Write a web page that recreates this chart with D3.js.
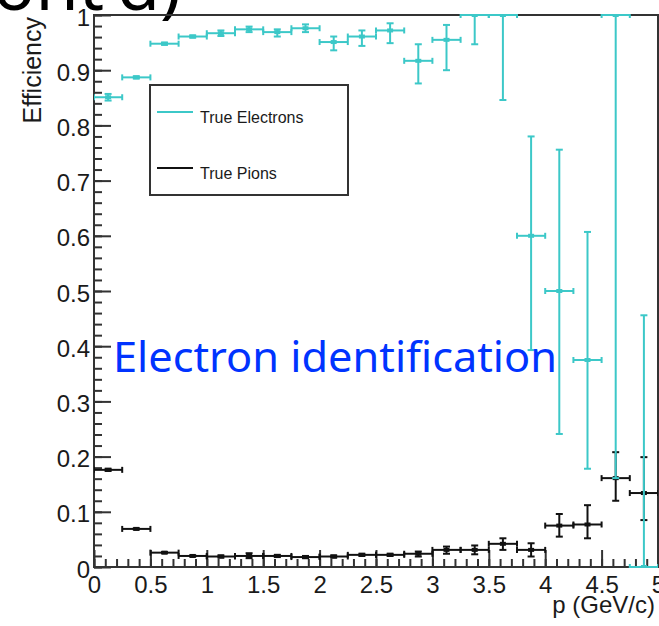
<!DOCTYPE html>
<html>
<head>
<meta charset="utf-8">
<script src="https://cdn.jsdelivr.net/npm/d3@7"></script>
<style>
  body { margin: 0; background: white; }
  svg { display: block; }
</style>
</head>
<body>
<div id="chart"></div>
<script>
// bins in p (GeV/c)
var binLow  = [0, 0.25, 0.5, 0.75, 1, 1.25, 1.5, 1.75, 2, 2.25, 2.5, 2.75, 3, 3.25, 3.5, 3.75, 4, 4.25, 4.5, 4.75];
var binHigh = [0.25, 0.5, 0.75, 1, 1.25, 1.5, 1.75, 2, 2.25, 2.5, 2.75, 3, 3.25, 3.5, 3.75, 4, 4.25, 4.5, 4.75, 5];

// true electrons: efficiency and error band (low / high)
var elecEff  = [0.851, 0.887, 0.948, 0.961, 0.967, 0.974, 0.969, 0.976, 0.951, 0.961, 0.972, 0.917, 0.955, 1.0, 1.0, 0.6, 0.5, 0.375, 1.0, 0.0];
var elecLow  = [0.845, 0.885, 0.946, 0.959, 0.962, 0.969, 0.961, 0.969, 0.936, 0.944, 0.949, 0.876, 0.900, 0.947, 0.846, 0.393, 0.241, 0.178, 0.161, 0.0];
var elecHigh = [0.857, 0.889, 0.950, 0.963, 0.972, 0.979, 0.974, 0.983, 0.961, 0.972, 0.985, 0.947, 0.982, 1.0, 1.0, 0.780, 0.756, 0.607, 1.0, 0.456];

// true pions
var pionEff  = [0.176, 0.069, 0.026, 0.020, 0.019, 0.020, 0.020, 0.018, 0.019, 0.022, 0.022, 0.024, 0.031, 0.031, 0.042, 0.031, 0.075, 0.077, 0.161, 0.134];
var pionLow  = [0.174, 0.068, 0.025, 0.019, 0.017, 0.016, 0.018, 0.016, 0.017, 0.020, 0.020, 0.019, 0.024, 0.023, 0.031, 0.019, 0.055, 0.052, 0.120, 0.085];
var pionHigh = [0.178, 0.070, 0.027, 0.021, 0.021, 0.025, 0.022, 0.020, 0.021, 0.024, 0.024, 0.028, 0.037, 0.039, 0.052, 0.043, 0.096, 0.112, 0.208, 0.199];

// axis ticks
var xMajor = [0, 0.5, 1, 1.5, 2, 2.5, 3, 3.5, 4, 4.5, 5];
var xLabels = ["0", "0.5", "1", "1.5", "2", "2.5", "3", "3.5", "4", "4.5", "5"];
var yMajor = [0, 0.1, 0.2, 0.3, 0.4, 0.5, 0.6, 0.7, 0.8, 0.9, 1];
var yLabels = ["0", "0.1", "0.2", "0.3", "0.4", "0.5", "0.6", "0.7", "0.8", "0.9", "1"];

var width = 659, height = 626;
var frameL = 94, frameR = 658, frameT = 15, frameB = 567;
var cyan = "#3cc8c8", black = "#111";
var axisColor = "#333";
var tickFont = "'Liberation Sans', Arial, sans-serif";

var svg = d3.select("#chart").append("svg")
    .attr("width", width).attr("height", height)
    .style("background-color", "white");

var x = d3.scaleLinear().domain([0, 5]).range([frameL, frameR]);
var y = d3.scaleLinear().domain([0, 1]).range([frameB, frameT]);

//big cut-off heading at the very top
svg.append("text")
    .attr("x", 181).attr("y", 10)
    .attr("text-anchor", "end")
    .attr("font-family", "'Noto Sans', 'Open Sans', sans-serif")
    .attr("font-size", 70)
    .attr("fill", "black")
    .text("(cont'd)");

//minor ticks
svg.append("g").attr("transform", "translate(" + frameL + ",0)")
    .call(d3.axisLeft(y).ticks(50).tickSize(-8).tickSizeOuter(0).tickFormat(""))
    .call(function(g) { g.select(".domain").remove(); g.selectAll("line").attr("stroke", axisColor).attr("stroke-width", 2); });
svg.append("g").attr("transform", "translate(0," + frameB + ")")
    .call(d3.axisBottom(x).ticks(50).tickSize(-8).tickSizeOuter(0).tickFormat(""))
    .call(function(g) { g.select(".domain").remove(); g.selectAll("line").attr("stroke", axisColor).attr("stroke-width", 2); });

//major ticks with labels
var yAxis = svg.append("g").attr("transform", "translate(" + frameL + ",0)")
    .call(d3.axisLeft(y).tickValues(yMajor).tickSize(-17).tickSizeOuter(0).tickPadding(4)
        .tickFormat(function(d, i) { return yLabels[i]; }));
yAxis.select(".domain").remove();
yAxis.selectAll("line").attr("stroke", axisColor).attr("stroke-width", 2);
yAxis.selectAll("text").attr("font-family", tickFont).attr("font-size", 24).attr("fill", "#1a1a1a").attr("dy", "0.42em");

var xAxis = svg.append("g").attr("transform", "translate(0," + frameB + ")")
    .call(d3.axisBottom(x).tickValues(xMajor).tickSize(-17).tickSizeOuter(0).tickPadding(9)
        .tickFormat(function(d, i) { return xLabels[i]; }));
xAxis.select(".domain").remove();
xAxis.selectAll("line").attr("stroke", axisColor).attr("stroke-width", 2);
xAxis.selectAll("text").attr("font-family", tickFont).attr("font-size", 24).attr("fill", "#1a1a1a");

//frame
svg.append("rect")
    .attr("x", frameL).attr("y", frameT)
    .attr("width", frameR - frameL).attr("height", frameB - frameT)
    .attr("fill", "none").attr("stroke", axisColor).attr("stroke-width", 2);

//axis titles
svg.append("text")
    .attr("transform", "translate(41,17) rotate(-90)")
    .attr("text-anchor", "end")
    .attr("font-family", tickFont).attr("font-size", 25).attr("fill", "#1a1a1a")
    .text("Efficiency");
svg.append("text")
    .attr("x", 655).attr("y", 613)
    .attr("text-anchor", "end")
    .attr("font-family", tickFont).attr("font-size", 24).attr("fill", "#1a1a1a")
    .text("p (GeV/c)");

//clip data to the frame
svg.append("clipPath").attr("id", "frame")
    .append("rect").attr("x", frameL).attr("y", frameT - 1).attr("width", frameR - frameL).attr("height", frameB - frameT + 2);

function drawSeries(eff, lo, hi, color) {
    var rows = eff.map(function(v, i) {
        return {x0: binLow[i], x1: binHigh[i], xc: (binLow[i] + binHigh[i]) / 2, v: v, lo: lo[i], hi: hi[i]};
    });
    var g = svg.append("g").attr("clip-path", "url(#frame)")
        .attr("stroke", color).attr("stroke-width", 2).attr("fill", color);
    var pts = g.selectAll("g").data(rows).enter().append("g");
    //horizontal bar over the bin
    pts.append("line")
        .attr("x1", function(d) { return x(d.x0); }).attr("x2", function(d) { return x(d.x1); })
        .attr("y1", function(d) { return y(d.v); }).attr("y2", function(d) { return y(d.v); });
    //end caps of the horizontal bar
    [function(d) { return x(d.x0); }, function(d) { return x(d.x1); }].forEach(function(fx) {
        pts.append("line")
            .attr("x1", fx).attr("x2", fx)
            .attr("y1", function(d) { return y(d.v) - 3; }).attr("y2", function(d) { return y(d.v) + 3; });
    });
    //vertical error
    pts.append("line")
        .attr("x1", function(d) { return x(d.xc); }).attr("x2", function(d) { return x(d.xc); })
        .attr("y1", function(d) { return y(d.lo); }).attr("y2", function(d) { return y(d.hi); });
    ["lo", "hi"].forEach(function(k) {
        pts.append("line")
            .attr("x1", function(d) { return x(d.xc) - 3.5; }).attr("x2", function(d) { return x(d.xc) + 3.5; })
            .attr("y1", function(d) { return y(d[k]); }).attr("y2", function(d) { return y(d[k]); });
    });
    //small marker
    pts.append("rect")
        .attr("x", function(d) { return x(d.xc) - 3; }).attr("y", function(d) { return y(d.v) - 2; })
        .attr("width", 6).attr("height", 4).attr("stroke", "none");
}

drawSeries(pionEff, pionLow, pionHigh, black);
drawSeries(elecEff, elecLow, elecHigh, cyan);

//legend
var legend = svg.append("g");
legend.append("rect")
    .attr("x", 150).attr("y", 85).attr("width", 198).attr("height", 110)
    .attr("fill", "white").attr("stroke", axisColor).attr("stroke-width", 2);
[{label: "True Electrons", color: cyan, ly: 112, ty: 123},
 {label: "True Pions", color: black, ly: 168, ty: 179}].forEach(function(e) {
    legend.append("line")
        .attr("x1", 157).attr("x2", 193).attr("y1", e.ly).attr("y2", e.ly)
        .attr("stroke", e.color).attr("stroke-width", 2);
    legend.append("text")
        .attr("x", 200).attr("y", e.ty)
        .attr("font-family", tickFont).attr("font-size", 16).attr("fill", "#1a1a1a")
        .text(e.label);
});

//overlay label
svg.append("text")
    .attr("x", 113).attr("y", 372)
    .attr("font-family", "'Noto Sans', 'Open Sans', sans-serif")
    .attr("font-size", 42)
    .attr("textLength", 444).attr("lengthAdjust", "spacingAndGlyphs")
    .attr("fill", "#0033ff")
    .text("Electron identification");
</script>
</body>
</html>
